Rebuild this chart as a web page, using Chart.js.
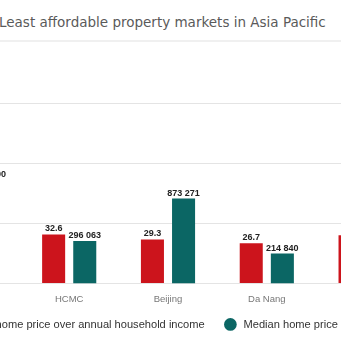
<!DOCTYPE html>
<html lang="en">
<head>
    <meta charset="UTF-8">
    <title>Least affordable property markets in Asia Pacific</title>
    <style>
        body {
            margin: 0;
            width: 341px;
            height: 343px;
            overflow: hidden;
            background: #fff;
            font-family: "Liberation Sans", Arial, sans-serif;
            position: relative;
        }

        .title {
            position: absolute;
            left: -1px;
            top: 14px;
            font-family: "DejaVu Sans", sans-serif;
            font-size: 13.5px;
            color: #5a5a5a;
            white-space: nowrap;
        }

        .sep {
            position: absolute;
            left: 0;
            right: 0;
            top: 40px;
            border-top: 2px solid #f0f0f0;
        }

        #chart-box {
            position: absolute;
            left: -143px;
            top: 0;
            width: 558px;
            height: 343px;
        }
    </style>
</head>
<body>

    <div class="title">Least affordable property markets in Asia Pacific</div>
    <div class="sep"></div>

    <div id="chart-box">
        <canvas id="priceChart"></canvas>
    </div>

    <script src="https://cdn.jsdelivr.net/npm/chart.js"></script>
    <script>
        // datos (los extremos quedan fuera del recorte)
        const cities = ['Shenzhen', 'HCMC', 'Beijing', 'Da Nang', 'Shanghai'];
        const ratioValues = [35.0, 32.6, 29.3, 26.7, 32.0];
        const priceValues = [1400000, 296063, 873271, 214840, 1000000];
        const ratioTicks = [0, 40, 80, 120];

        // los espacios imitan la separacion de la leyenda original
        const ratioLabel = 'Ratio of median home price over annual household income   ';
        const priceLabel = ' Median home price (USD)';

        function fmtPrice(v) {
            return String(v).replace(/\B(?=(\d{3})+(?!\d))/g, ' ');
        }

        // etiquetas encima de cada barra
        const barLabels = {
            id: 'barLabels',
            afterDatasetsDraw(chart) {
                const ctx = chart.ctx;
                ctx.save();
                ctx.font = 'bold 9px "Liberation Sans", Arial, sans-serif';
                ctx.fillStyle = '#222';
                ctx.textAlign = 'center';
                ctx.textBaseline = 'bottom';
                chart.data.datasets.forEach((ds, i) => {
                    chart.getDatasetMeta(i).data.forEach((bar, j) => {
                        const v = ds.data[j];
                        const txt = i === 0 ? v.toFixed(1) : fmtPrice(v);
                        ctx.fillText(txt, bar.x, bar.y - 1);
                    });
                });
                ctx.restore();
            }
        };

        const ctx = document.getElementById('priceChart').getContext('2d');
        const priceChart = new Chart(ctx, {
            type: 'bar',
            data: {
                labels: cities,
                datasets: [{
                    label: ratioLabel,
                    data: ratioValues,
                    backgroundColor: '#cc141c',
                    yAxisID: 'yRatio',
                    categoryPercentage: 0.63,
                    barPercentage: 0.74
                }, {
                    label: priceLabel,
                    data: priceValues,
                    backgroundColor: '#0b6664',
                    yAxisID: 'yPrice',
                    categoryPercentage: 0.63,
                    barPercentage: 0.74
                }]
            },
            options: {
                responsive: true,
                maintainAspectRatio: false,
                animation: false,
                layout: {
                    padding: { top: 103, left: 0, right: 0, bottom: 3 }
                },
                plugins: {
                    title: { display: false },
                    tooltip: { enabled: false },
                    legend: {
                        position: 'bottom',
                        labels: {
                            usePointStyle: true,
                            pointStyle: 'circle',
                            boxWidth: 9,
                            boxHeight: 9,
                            padding: 12,
                            color: '#333',
                            font: { size: 11.1, family: '"Liberation Sans", Arial, sans-serif' }
                        }
                    }
                },
                scales: {
                    x: {
                        grid: { display: false },
                        border: { display: false },
                        ticks: {
                            color: '#777',
                            padding: 2,
                            font: { size: 9.5, family: '"Liberation Sans", Arial, sans-serif' }
                        }
                    },
                    yRatio: {
                        position: 'left',
                        min: ratioTicks[0],
                        max: ratioTicks[ratioTicks.length - 1],
                        afterBuildTicks(axis) {
                            axis.ticks = ratioTicks.map(v => ({ value: v }));
                        },
                        // espacio del eje izquierdo (fuera del recorte)
                        afterFit(axis) {
                            axis.width = 64;
                        },
                        border: { display: false },
                        grid: { color: '#e4e4e4', drawTicks: false },
                        ticks: { display: false }
                    },
                    yPrice: {
                        type: 'logarithmic',
                        position: 'right',
                        display: false,
                        min: 100000,
                        max: 10000000
                    }
                }
            },
            plugins: [barLabels]
        });
    </script>

</body>
</html>
